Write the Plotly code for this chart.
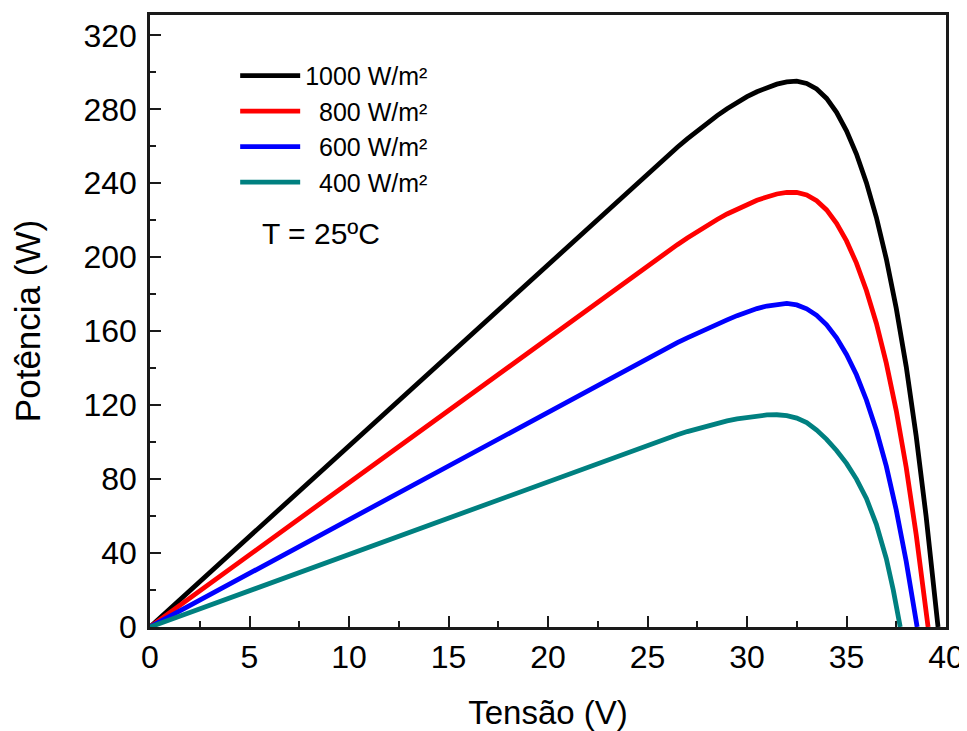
import plotly.graph_objects as go

# Voltage (V) and power (W)
v_1000 = [0, 5, 10, 15, 20, 25, 25.5, 26, 26.5, 27, 27.5, 28, 28.5, 29, 29.5, 30, 30.5, 31, 31.5, 32, 32.5,
          33, 33.5, 34, 34.5, 35, 35.5, 36, 36.5, 37, 37.5, 38, 38.5, 39, 39.6]
p_1000 = [0, 49.1, 98.2, 147.3, 196.4, 245.4, 250.2, 254.9, 259.5, 264.0, 268.4, 272.6, 276.6, 280.3, 283.7, 286.8, 289.5, 291.8, 293.6, 294.8, 295.2,
          294.0, 291.0, 285.9, 278.4, 268.4, 255.8, 240.3, 221.6, 199.1, 172.4, 140.9, 103.4, 59.9, 0]

v_800 = [0, 5, 10, 15, 20, 25, 25.5, 26, 26.5, 27, 27.5, 28, 28.5, 29, 29.5, 30, 30.5, 31, 31.5, 32, 32.5,
         33, 33.5, 34, 34.5, 35, 35.5, 36, 36.5, 37, 37.5, 38, 38.5, 39.1]
p_800 = [0, 39.1, 78.3, 117.4, 156.5, 195.6, 199.4, 203.2, 206.8, 210.4, 213.9, 217.3, 220.4, 223.4, 226.1, 228.6, 230.8, 232.6, 234.2, 235.0, 235.1,
         233.7, 230.6, 225.6, 218.3, 208.8, 196.8, 182.0, 164.3, 142.7, 117.0, 86.3, 50.1, 0]

v_600 = [0, 5, 10, 15, 20, 25, 25.5, 26, 26.5, 27, 27.5, 28, 28.5, 29, 29.5, 30, 30.5, 31, 31.5, 32, 32.5,
         33, 33.5, 34, 34.5, 35, 35.5, 36, 36.5, 37, 37.5, 38, 38.55]
p_600 = [0, 29.1, 58.2, 87.3, 116.4, 145.4, 148.3, 151.1, 153.8, 156.4, 159.0, 161.5, 163.9, 166.1, 168.4, 170.4, 172.2, 173.6, 174.5, 175.0, 174.2,
         172.1, 168.6, 163.4, 156.4, 147.4, 136.4, 122.8, 106.4, 87.0, 63.3, 35.5, 0]

v_400 = [0, 5, 10, 15, 20, 25, 25.5, 26, 26.5, 27, 27.5, 28, 28.5, 29, 29.5, 30, 30.5, 31, 31.5, 32, 32.5,
         33, 33.5, 34, 34.5, 35, 35.5, 36, 36.5, 37, 37.35, 37.7]
p_400 = [0, 19.7, 39.4, 59.2, 78.9, 98.6, 100.5, 102.3, 104.0, 105.7, 107.3, 108.8, 110.2, 111.5, 112.6, 113.5, 114.2, 114.7, 114.8, 114.3, 113.0,
         110.5, 106.5, 101.5, 95.5, 88.5, 80.0, 69.5, 55.5, 37.0, 20.0, 0]

series_names = ["1000 W/m²", "\u00a0\u00a0800 W/m²", "\u00a0\u00a0600 W/m²", "\u00a0\u00a0400 W/m²"]
series_colors = ["#000000", "#ff0000", "#0000ff", "#008080"]
series_v = [v_1000, v_800, v_600, v_400]
series_p = [p_1000, p_800, p_600, p_400]

x_ticks = [0, 5, 10, 15, 20, 25, 30, 35, 40]
y_ticks = [0, 40, 80, 120, 160, 200, 240, 280, 320]

FONT = "Liberation Sans, Arial, sans-serif"
AXC = "#1a1a1a"

fig = go.Figure()
for name, color, vv, pp in zip(series_names, series_colors, series_v, series_p):
    fig.add_trace(go.Scatter(
        x=vv, y=pp, mode="lines", name=name,
        line=dict(color=color, width=4.8, shape="linear"),
    ))

fig.add_annotation(
    x=5.55, y=213, xref="x", yref="y", text="T = 25ºC", showarrow=False,
    xanchor="left", yanchor="middle", font=dict(family=FONT, size=30, color="#000"),
)

axis_common = dict(
    showline=True, linewidth=2.5, linecolor=AXC, mirror=True,
    ticks="inside", ticklen=11, tickwidth=2, tickcolor=AXC,
    showgrid=False, zeroline=False, automargin=False,
    tickfont=dict(family=FONT, size=32, color="#000"),
)

fig.update_xaxes(
    range=[0, 40], tickvals=x_ticks, ticktext=[str(t) for t in x_ticks],
    minor=dict(ticks="inside", ticklen=6, tickwidth=2, tickcolor=AXC, dtick=2.5, tick0=0),
    title=dict(text="Tensão (V)", font=dict(family=FONT, size=33, color="#000"), standoff=28),
    **axis_common,
)
fig.update_yaxes(
    range=[0, 331], tickvals=y_ticks, ticktext=[str(t) for t in y_ticks],
    minor=dict(ticks="inside", ticklen=6, tickwidth=2, tickcolor=AXC, dtick=20, tick0=0),
    title=dict(text="Potência (W)", font=dict(family=FONT, size=35, color="#000"), standoff=40),
    ticklabelstandoff=4,
    **axis_common,
)

fig.update_layout(
    width=959, height=723,
    margin=dict(l=142, r=21, t=7, b=104),
    paper_bgcolor="white", plot_bgcolor="white",
    showlegend=True,
    legend=dict(
        x=0.107, y=0.938, xanchor="left", yanchor="top",
        bgcolor="rgba(0,0,0,0)", borderwidth=0,
        font=dict(family=FONT, size=25, color="#000"),
        itemwidth=60, tracegroupgap=0,
    ),
)

fig.write_html("out.html")
